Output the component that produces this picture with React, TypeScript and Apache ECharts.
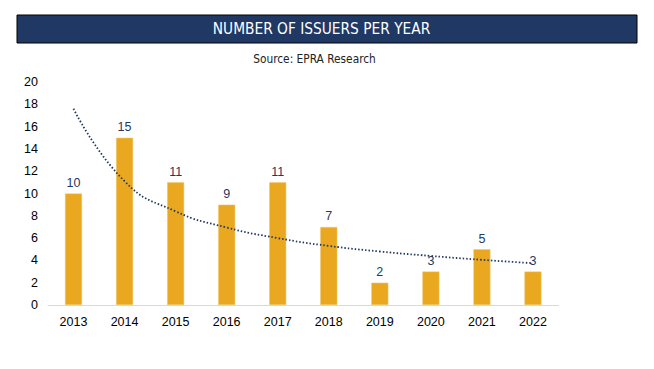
import React, { useEffect, useRef } from "react";
import * as echarts from "echarts";

const years = ["2013", "2014", "2015", "2016", "2017", "2018", "2019", "2020", "2021", "2022"];
const issuers = [10, 15, 11, 9, 11, 7, 2, 3, 5, 3];
const trend = [17.6, 11.1, 8.4, 6.95, 6.0, 5.3, 4.8, 4.4, 4.05, 3.75];
const yTicks = { min: 0, max: 20, interval: 2 };
const titleText = "NUMBER OF ISSUERS PER YEAR";
const sourceText = "Source: EPRA Research";

export default function App() {
  const ref = useRef<HTMLDivElement>(null);
  useEffect(() => {
    document.body.style.margin = "0";
    const chart = echarts.init(ref.current!, null, { renderer: "svg" });
    chart.setOption({
      animation: false,
      backgroundColor: "#ffffff",
      graphic: [
        {
          type: "rect",
          shape: { x: 17, y: 15, width: 620, height: 28 },
          style: { fill: "#1F3864", stroke: "#000000", lineWidth: 1 },
        },
        {
          type: "text",
          x: 321.5,
          y: 29,
          style: {
            text: titleText,
            fill: "#ffffff",
            font: "15.3px 'DejaVu Sans Condensed', 'DejaVu Sans', sans-serif",
            align: "center",
            verticalAlign: "middle",
          },
        },
        {
          type: "text",
          x: 314.5,
          y: 59,
          style: {
            text: sourceText,
            fill: "#222222",
            font: "11.8px 'DejaVu Sans Condensed', 'DejaVu Sans', sans-serif",
            align: "center",
            verticalAlign: "middle",
          },
        },
      ],
      grid: { left: 48, right: 95.5, top: 82, bottom: 64, containLabel: false },
      xAxis: {
        type: "category",
        data: years,
        axisLine: { show: true, lineStyle: { color: "#D9D9D9", width: 1 } },
        axisTick: { show: false },
        axisLabel: {
          color: "#000000",
          fontFamily: "'Liberation Sans', Arial, sans-serif",
          fontSize: 12.5,
          margin: 10,
        },
      },
      yAxis: {
        type: "value",
        min: yTicks.min,
        max: yTicks.max,
        interval: yTicks.interval,
        splitLine: { show: false },
        axisLine: { show: false },
        axisTick: { show: false },
        axisLabel: {
          color: "#000000",
          fontFamily: "'Liberation Sans', Arial, sans-serif",
          fontSize: 12.5,
          margin: 10,
        },
      },
      series: [
        {
          type: "bar",
          data: issuers,
          barWidth: 17,
          itemStyle: { color: "#E9A820", borderColor: "#F3C96E", borderWidth: 0.5 },
          label: {
            show: true,
            position: "top",
            distance: 4,
            color: "#1F3864",
            fontFamily: "'Liberation Sans', Arial, sans-serif",
            fontSize: 12.5,
          },
          z: 2,
        },
        {
          type: "line",
          data: trend,
          smooth: true,
          symbol: "none",
          lineStyle: { color: "#1F3864", width: 1.8, type: [1.5, 2] },
          z: 3,
        },
      ],
    });
    return () => chart.dispose();
  }, []);
  return <div ref={ref} style={{ width: 654, height: 369 }} />;
}
